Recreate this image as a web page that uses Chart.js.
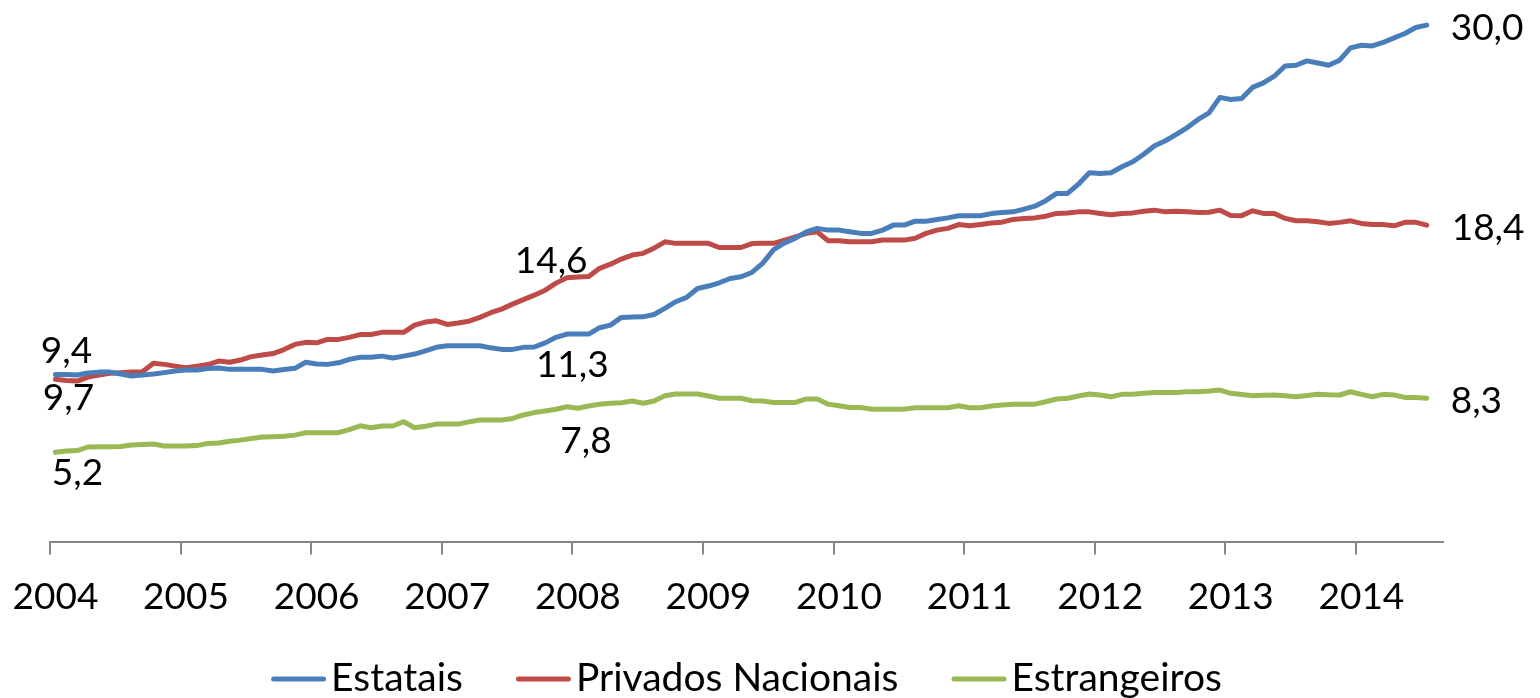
<!DOCTYPE html>
<html>
<head>
<meta charset="utf-8">
<script src="https://cdn.jsdelivr.net/npm/chart.js@4.4.1/dist/chart.umd.min.js"></script>
<style>
  html, body { margin: 0; padding: 0; background: #fff; }
</style>
</head>
<body>
<canvas id="chart" width="1540" height="698"></canvas>
<script>
/* ---- data: monthly, Jan 2004 .. Jul 2014 (axis runs one month further) ---- */
const years = [2004, 2005, 2006, 2007, 2008, 2009, 2010, 2011, 2012, 2013, 2014];
const monthsInLastYear = 8;

const estatais = [
  9.70, 9.70, 9.67, 9.79, 9.84, 9.84, 9.73, 9.61, 9.67, 9.73, 9.81, 9.90,
  9.96, 9.96, 10.05, 10.08, 10.00, 10.00, 10.00, 10.00, 9.90, 9.99, 10.06, 10.41,
  10.31, 10.29, 10.38, 10.58, 10.70, 10.70, 10.77, 10.66, 10.77, 10.89, 11.08, 11.28,
  11.37, 11.37, 11.37, 11.37, 11.25, 11.16, 11.16, 11.28, 11.30, 11.54, 11.86, 12.05,
  12.05, 12.05, 12.42, 12.57, 13.02, 13.04, 13.05, 13.19, 13.54, 13.93, 14.18, 14.70,
  14.84, 15.03, 15.28, 15.38, 15.63, 16.17, 16.96, 17.35, 17.62, 17.99, 18.19, 18.09,
  18.09, 17.99, 17.90, 17.90, 18.09, 18.38, 18.38, 18.61, 18.61, 18.71, 18.80, 18.92,
  18.92, 18.92, 19.05, 19.11, 19.15, 19.31, 19.48, 19.80, 20.22, 20.22, 20.76, 21.42,
  21.38, 21.42, 21.77, 22.06, 22.50, 22.99, 23.28, 23.65, 24.05, 24.52, 24.90, 25.80,
  25.68, 25.74, 26.38, 26.64, 27.03, 27.63, 27.67, 27.92, 27.80, 27.67, 27.96, 28.68,
  28.83, 28.79, 28.99, 29.26, 29.51, 29.86, 30.00
];

const privadosNacionais = [
  9.42, 9.35, 9.32, 9.55, 9.67, 9.77, 9.81, 9.84, 9.86, 10.35, 10.29, 10.19,
  10.09, 10.19, 10.28, 10.48, 10.41, 10.54, 10.74, 10.83, 10.92, 11.15, 11.45, 11.57,
  11.54, 11.74, 11.74, 11.86, 12.02, 12.03, 12.15, 12.15, 12.15, 12.57, 12.75, 12.82,
  12.61, 12.69, 12.80, 13.02, 13.29, 13.50, 13.79, 14.05, 14.31, 14.60, 15.01, 15.32,
  15.36, 15.39, 15.87, 16.11, 16.41, 16.64, 16.74, 17.04, 17.41, 17.32, 17.32, 17.32,
  17.32, 17.08, 17.08, 17.08, 17.31, 17.32, 17.32, 17.51, 17.70, 17.90, 17.99, 17.47,
  17.47, 17.41, 17.41, 17.41, 17.51, 17.51, 17.51, 17.62, 17.90, 18.09, 18.19, 18.41,
  18.34, 18.42, 18.50, 18.55, 18.71, 18.76, 18.80, 18.90, 19.06, 19.09, 19.15, 19.15,
  19.06, 18.98, 19.06, 19.09, 19.19, 19.25, 19.15, 19.19, 19.15, 19.12, 19.13, 19.25,
  18.94, 18.93, 19.21, 19.06, 19.06, 18.77, 18.63, 18.63, 18.57, 18.48, 18.54, 18.63,
  18.48, 18.42, 18.42, 18.34, 18.54, 18.54, 18.38
];

const estrangeiros = [
  5.18, 5.26, 5.28, 5.49, 5.51, 5.51, 5.52, 5.60, 5.63, 5.66, 5.55, 5.55,
  5.55, 5.57, 5.70, 5.72, 5.82, 5.89, 5.98, 6.07, 6.09, 6.11, 6.18, 6.32,
  6.32, 6.32, 6.32, 6.50, 6.72, 6.61, 6.71, 6.71, 6.96, 6.61, 6.70, 6.82,
  6.82, 6.82, 6.95, 7.06, 7.06, 7.06, 7.15, 7.35, 7.49, 7.58, 7.68, 7.83,
  7.74, 7.87, 7.97, 8.03, 8.06, 8.16, 8.03, 8.16, 8.47, 8.57, 8.57, 8.57,
  8.45, 8.32, 8.32, 8.32, 8.18, 8.16, 8.08, 8.08, 8.08, 8.28, 8.28, 7.98,
  7.89, 7.79, 7.79, 7.69, 7.69, 7.69, 7.69, 7.77, 7.77, 7.77, 7.77, 7.89,
  7.77, 7.77, 7.87, 7.93, 7.97, 7.98, 7.98, 8.12, 8.28, 8.32, 8.45, 8.57,
  8.51, 8.41, 8.55, 8.55, 8.61, 8.66, 8.66, 8.66, 8.70, 8.70, 8.74, 8.80,
  8.61, 8.54, 8.47, 8.49, 8.51, 8.47, 8.41, 8.48, 8.55, 8.52, 8.51, 8.70,
  8.55, 8.41, 8.55, 8.51, 8.37, 8.37, 8.32
];

const seriesNames = ["Estatais", "Privados Nacionais", "Estrangeiros"];
const seriesColors = ["#4a7ebb", "#be4b48", "#98b954"];

// which points carry a value label, and where the text sits relative to the point
const valueLabels = [
  { series: 1, index: 0,   dx: 11, dy: -16, align: "center" },
  { series: 0, index: 0,   dx: 13, dy: 35,  align: "center" },
  { series: 2, index: 0,   dx: 22, dy: 33,  align: "center" },
  { series: 1, index: 45,  dx: 6,  dy: -17, align: "center" },
  { series: 0, index: 44,  dx: 38, dy: 30,  align: "center" },
  { series: 2, index: 47,  dx: 19, dy: 46,  align: "center" },
  { series: 0, index: 126, dx: 24, dy: 15,  align: "left" },
  { series: 1, index: 126, dx: 25, dy: 15,  align: "left" },
  { series: 2, index: 126, dx: 24, dy: 15,  align: "left" },
];

/* ---- month categories ---- */
const months = [];
years.forEach((y, yi) => {
  const n = yi === years.length - 1 ? monthsInLastYear : 12;
  for (let m = 1; m <= n; m++) months.push(y + "-" + String(m).padStart(2, "0"));
});

const FONT = "Lato, 'Open Sans', sans-serif";
const fmt = (v) => v.toFixed(1).replace(".", ",");

/* ---- value labels on the lines ---- */
const valueLabelPlugin = {
  id: "valueLabels",
  afterDatasetsDraw(chart) {
    const ctx = chart.ctx;
    ctx.save();
    ctx.font = "37px " + FONT;
    ctx.fillStyle = "#000";
    ctx.textBaseline = "alphabetic";
    valueLabels.forEach((l) => {
      const pt = chart.getDatasetMeta(l.series).data[l.index];
      const v = chart.data.datasets[l.series].data[l.index];
      ctx.textAlign = l.align;
      ctx.fillText(fmt(v), pt.x + l.dx, pt.y + l.dy);
    });
    ctx.restore();
  },
};

/* ---- legend with line swatches under the axis ---- */
const lineLegendPlugin = {
  id: "lineLegend",
  afterDraw(chart) {
    const ctx = chart.ctx;
    const swatch = 55, gap = 5, spacing = 53, baseY = 691;
    ctx.save();
    ctx.font = "39px " + FONT;
    const items = chart.data.datasets.map((ds) => ({
      ds,
      w: swatch + gap + ctx.measureText(ds.label).width,
    }));
    const total = items.reduce((s, it) => s + it.w, 0) + spacing * (items.length - 1);
    let x = (chart.chartArea.left + chart.chartArea.right) / 2 - total / 2;
    items.forEach((it) => {
      ctx.strokeStyle = it.ds.borderColor;
      ctx.lineWidth = 5;
      ctx.lineCap = "round";
      ctx.beginPath();
      ctx.moveTo(x + 2.5, baseY - 12);
      ctx.lineTo(x + swatch - 2.5, baseY - 12);
      ctx.stroke();
      ctx.fillStyle = "#000";
      ctx.textAlign = "left";
      ctx.textBaseline = "alphabetic";
      ctx.fillText(it.ds.label, x + swatch + gap, baseY);
      x += it.w + spacing;
    });
    ctx.restore();
  },
};

new Chart(document.getElementById("chart"), {
  type: "line",
  data: {
    labels: months,
    datasets: [estatais, privadosNacionais, estrangeiros].map((d, i) => ({
      label: seriesNames[i],
      data: d,
      borderColor: seriesColors[i],
      backgroundColor: seriesColors[i],
      borderWidth: 5,
      pointRadius: 0,
      tension: 0,
      borderJoinStyle: "round",
      borderCapStyle: "round",
      clip: false,
    })),
  },
  options: {
    responsive: false,
    animation: false,
    layout: { padding: { left: 50, right: 97, top: 1, bottom: 0 } },
    plugins: {
      legend: { display: false },
      tooltip: { enabled: false },
    },
    scales: {
      x: {
        type: "category",
        offset: true,
        afterFit: (scale) => {
          scale.height = 156.5;
          scale.paddingLeft = 0;
          scale.paddingRight = 0;
        },
        grid: {
          offset: true,
          drawOnChartArea: false,
          drawTicks: true,
          tickLength: 13,
          lineWidth: 2,
          color: (c) => (c.index % 12 === 0 && c.index < months.length ? "#868686" : "rgba(0,0,0,0)"),
        },
        border: { display: true, color: "#868686", width: 2 },
        ticks: {
          autoSkip: false,
          maxRotation: 0,
          minRotation: 0,
          padding: 20,
          color: "#000",
          font: { family: FONT, size: 37 },
          callback: (v, i) => (months[i].endsWith("-01") ? months[i].slice(0, 4) : ""),
        },
      },
      y: {
        display: false,
        min: 0,
        max: 31.4,
      },
    },
  },
  plugins: [valueLabelPlugin, lineLegendPlugin],
});
</script>
</body>
</html>
